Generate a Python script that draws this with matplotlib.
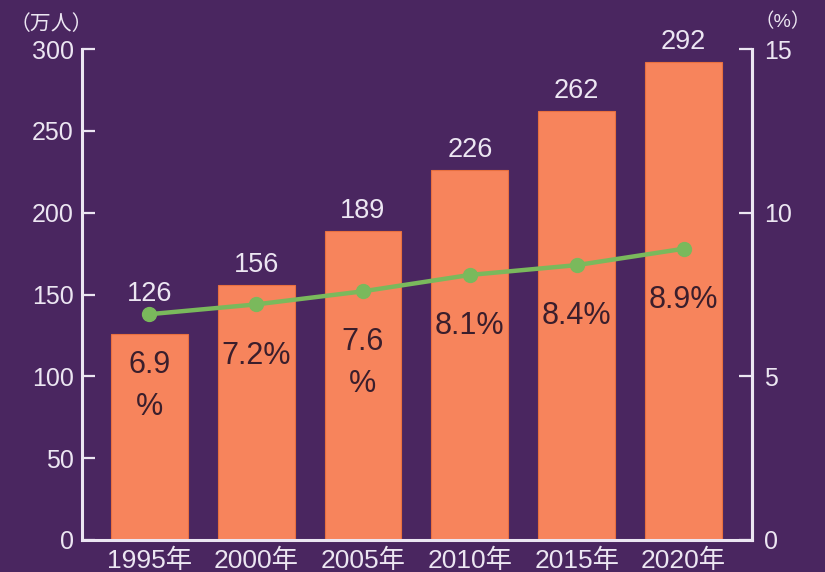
import matplotlib.pyplot as plt

plt.rcParams['font.family'] = ['Liberation Sans', 'Noto Sans CJK JP', 'DejaVu Sans']

years = ["1995年", "2000年", "2005年", "2010年", "2015年", "2020年"]
people = [126, 156, 189, 226, 262, 292]
ratio = [6.9, 7.2, 7.6, 8.1, 8.4, 8.9]
ratio_labels = ["6.9\n%", "7.2%", "7.6\n%", "8.1%", "8.4%", "8.9%"]
left_ticks = [0, 50, 100, 150, 200, 250, 300]
right_ticks = [0, 5, 10, 15]

bg = "#4a2660"
fg = "#ece6f2"
bar_color = "#f7845c"
line_color = "#7ab95c"
dark = "#3a1e2c"

fig = plt.figure(figsize=(8.25, 5.72), dpi=100)
fig.patch.set_facecolor(bg)
ax = fig.add_axes([0.0994, 0.056, 0.812, 0.858])
ax.set_facecolor(bg)

x = list(range(len(years)))
ax.bar(x, people, width=0.72, color=bar_color, edgecolor="#e8703f", linewidth=0.8, zorder=2)
ax.set_xlim(-0.63, 5.64)
ax.set_ylim(0, 300)
ax.set_yticks(left_ticks)
ax.set_xticks(x)
ax.set_xticklabels(years)

for i, v in enumerate(people):
    off = 19 if i == 0 else 5
    ax.annotate(str(v), (i, v), xytext=(0, off), textcoords="offset points",
                ha="center", va="bottom", color=fg, fontsize=19.5)

ax.spines["top"].set_visible(False)
for side in ["left", "bottom", "right"]:
    ax.spines[side].set_color(fg)
    ax.spines[side].set_linewidth(2.2)
ax.tick_params(axis="y", direction="in", length=9.5, width=1.6, colors=fg,
               labelsize=18, pad=6)
ax.tick_params(axis="x", length=0, colors=fg, labelsize=19, pad=6)

ax2 = ax.twinx()
ax2.set_ylim(0, 15)
ax2.set_yticks(right_ticks)
ax2.plot(x, ratio, color=line_color, linewidth=3.2, marker="o", markersize=10, zorder=3)
for side in ["top", "left", "bottom"]:
    ax2.spines[side].set_visible(False)
ax2.spines["right"].set_color(fg)
ax2.spines["right"].set_linewidth(2.2)
ax2.tick_params(axis="y", direction="in", length=9.5, width=1.6, colors=fg,
                labelsize=18, pad=9)

# percentage labels sit inside the bars, below the line
for i, (v, lab) in enumerate(zip(ratio, ratio_labels)):
    ax2.annotate(lab, (i, v), xytext=(0, -26), textcoords="offset points",
                 ha="center", va="top", color=dark, fontsize=22,
                 linespacing=1.5)

fig.text(0.012, 0.958, "（万人）", color=fg, fontsize=15, ha="left", va="center")
fig.text(0.915, 0.962, "（%）", color=fg, fontsize=14, ha="left", va="center")

fig.savefig("out.png", dpi=100, facecolor=bg)
